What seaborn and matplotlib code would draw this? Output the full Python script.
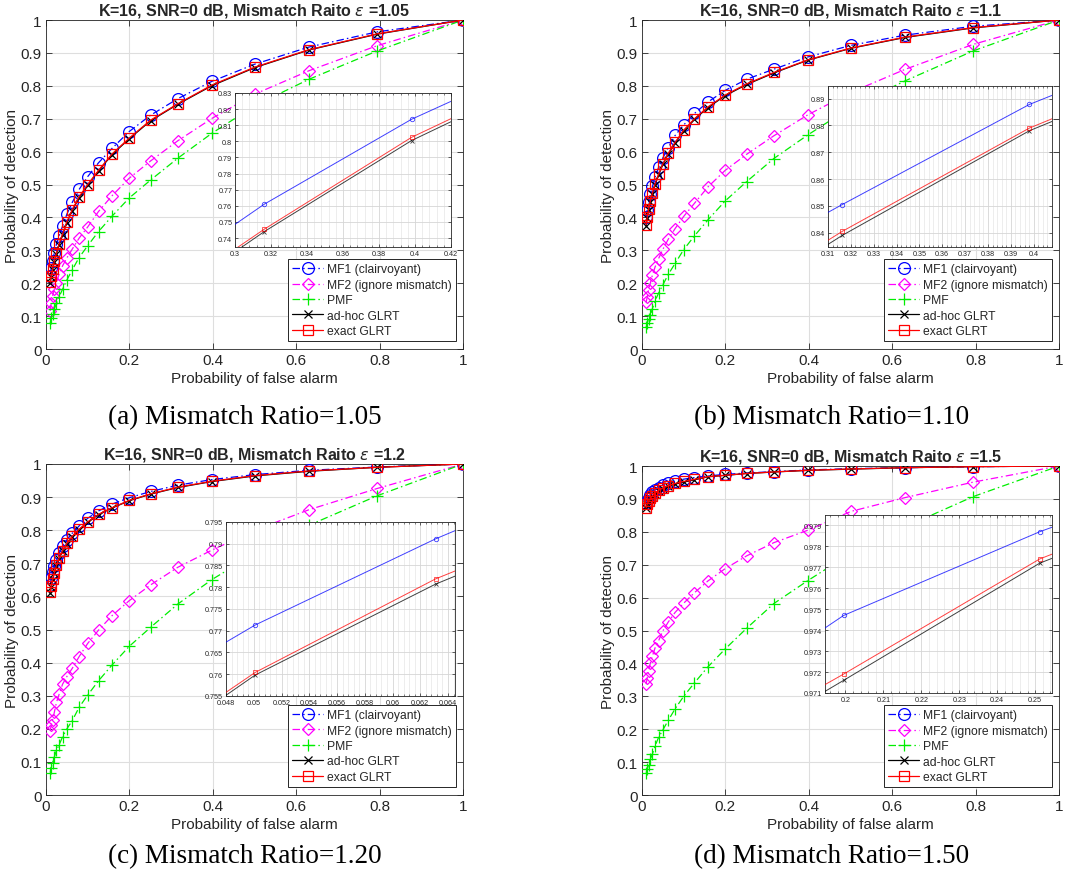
import numpy as np
import pandas as pd
import matplotlib
matplotlib.use('Agg')
import matplotlib.pyplot as plt
import seaborn as sns
from matplotlib.ticker import MultipleLocator, AutoMinorLocator, FuncFormatter

# ---------------- data ----------------
pfa = [0.0100, 0.0126, 0.0158, 0.0200, 0.0251, 0.0316, 0.0398, 0.0501, 0.0631, 0.0794,
       0.1000, 0.1259, 0.1585, 0.1995, 0.2512, 0.3162, 0.3981, 0.5012, 0.6310, 0.7943, 1.0]

# (a) epsilon = 1.05
a_mf1 = [0.223, 0.247, 0.268, 0.293, 0.319, 0.344, 0.374, 0.410, 0.446, 0.485, 0.524, 0.566, 0.610, 0.661, 0.711, 0.761, 0.8137, 0.866, 0.918, 0.964, 1.0]
a_mf2 = [0.116, 0.140, 0.162, 0.182, 0.202, 0.228, 0.253, 0.277, 0.304, 0.337, 0.371, 0.418, 0.466, 0.519, 0.572, 0.633, 0.701, 0.775, 0.846, 0.922, 1.0]
a_pmf = [0.079, 0.093, 0.106, 0.121, 0.140, 0.159, 0.182, 0.210, 0.241, 0.278, 0.314, 0.357, 0.404, 0.459, 0.514, 0.580, 0.656, 0.740, 0.820, 0.906, 1.0]
a_adhoc = [0.200, 0.219, 0.240, 0.265, 0.289, 0.317, 0.347, 0.384, 0.421, 0.460, 0.498, 0.541, 0.591, 0.639, 0.694, 0.744, 0.8005, 0.8555, 0.909, 0.957, 1.0]
a_exact = [0.203, 0.222, 0.243, 0.268, 0.292, 0.320, 0.350, 0.387, 0.424, 0.463, 0.500, 0.543, 0.593, 0.641, 0.696, 0.7455, 0.8025, 0.857, 0.910, 0.958, 1.0]

# (b) epsilon = 1.1
b_mf1 = [0.400, 0.423, 0.447, 0.470, 0.494, 0.523, 0.552, 0.581, 0.612, 0.649, 0.681, 0.716, 0.751, 0.786, 0.820, 0.8505, 0.8878, 0.923, 0.954, 0.981, 1.0]
b_mf2 = [0.142, 0.158, 0.180, 0.200, 0.225, 0.250, 0.275, 0.303, 0.334, 0.366, 0.403, 0.443, 0.493, 0.543, 0.592, 0.648, 0.712, 0.780, 0.850, 0.926, 1.0]
b_pmf = [0.066, 0.079, 0.091, 0.103, 0.123, 0.147, 0.170, 0.195, 0.227, 0.260, 0.302, 0.344, 0.393, 0.450, 0.509, 0.579, 0.651, 0.735, 0.815, 0.906, 1.0]
b_adhoc = [0.375, 0.398, 0.422, 0.447, 0.472, 0.500, 0.529, 0.561, 0.593, 0.626, 0.663, 0.698, 0.734, 0.770, 0.804, 0.839, 0.878, 0.914, 0.947, 0.976, 1.0]
b_exact = [0.378, 0.401, 0.425, 0.450, 0.475, 0.503, 0.531, 0.563, 0.595, 0.628, 0.665, 0.700, 0.736, 0.772, 0.806, 0.8405, 0.879, 0.915, 0.948, 0.977, 1.0]

# (c) epsilon = 1.2
c_mf1 = [0.635, 0.655, 0.673, 0.692, 0.711, 0.731, 0.752, 0.7713, 0.7911, 0.813, 0.836, 0.858, 0.879, 0.898, 0.917, 0.936, 0.953, 0.968, 0.981, 0.991, 1.0]
c_mf2 = [0.194, 0.211, 0.227, 0.250, 0.280, 0.305, 0.335, 0.358, 0.383, 0.418, 0.458, 0.498, 0.542, 0.587, 0.635, 0.688, 0.740, 0.800, 0.862, 0.926, 1.0]
c_pmf = [0.068, 0.083, 0.098, 0.115, 0.135, 0.152, 0.176, 0.200, 0.225, 0.265, 0.302, 0.345, 0.393, 0.449, 0.507, 0.577, 0.651, 0.730, 0.815, 0.904, 1.0]
c_adhoc = [0.610, 0.629, 0.650, 0.670, 0.692, 0.714, 0.737, 0.7598, 0.7807, 0.802, 0.824, 0.847, 0.867, 0.889, 0.909, 0.929, 0.947, 0.964, 0.978, 0.990, 1.0]
c_exact = [0.613, 0.632, 0.652, 0.672, 0.694, 0.716, 0.738, 0.7604, 0.7819, 0.803, 0.825, 0.848, 0.868, 0.890, 0.910, 0.930, 0.948, 0.965, 0.979, 0.990, 1.0]

# (d) epsilon = 1.5
d_mf1 = [0.887, 0.895, 0.904, 0.912, 0.920, 0.927, 0.934, 0.941, 0.948, 0.954, 0.960, 0.965, 0.9697, 0.9747, 0.9787, 0.983, 0.988, 0.992, 0.995, 0.998, 1.0]
d_mf2 = [0.337, 0.357, 0.378, 0.401, 0.423, 0.448, 0.469, 0.499, 0.526, 0.555, 0.583, 0.615, 0.651, 0.688, 0.727, 0.767, 0.805, 0.862, 0.904, 0.951, 1.0]
d_pmf = [0.068, 0.078, 0.092, 0.108, 0.125, 0.150, 0.175, 0.198, 0.227, 0.262, 0.300, 0.341, 0.390, 0.444, 0.507, 0.582, 0.652, 0.735, 0.815, 0.907, 1.0]
d_adhoc = [0.871, 0.882, 0.891, 0.900, 0.908, 0.916, 0.924, 0.931, 0.938, 0.945, 0.951, 0.958, 0.9672, 0.9716, 0.9772, 0.9818, 0.9868, 0.9905, 0.9948, 0.998, 1.0]
d_exact = [0.873, 0.884, 0.893, 0.902, 0.910, 0.918, 0.926, 0.933, 0.940, 0.947, 0.953, 0.9595, 0.9677, 0.9719, 0.9774, 0.982, 0.987, 0.991, 0.995, 0.998, 1.0]

series_names = ['MF1 (clairvoyant)', 'MF2 (ignore mismatch)', 'PMF', 'ad-hoc GLRT', 'exact GLRT']
eps_labels = ['1.05', '1.1', '1.2', '1.5']
captions = ['(a) Mismatch Ratio=1.05', '(b) Mismatch Ratio=1.10',
            '(c) Mismatch Ratio=1.20', '(d) Mismatch Ratio=1.50']
panels = [
    [a_mf1, a_mf2, a_pmf, a_adhoc, a_exact],
    [b_mf1, b_mf2, b_pmf, b_adhoc, b_exact],
    [c_mf1, c_mf2, c_pmf, c_adhoc, c_exact],
    [d_mf1, d_mf2, d_pmf, d_adhoc, d_exact],
]

# ---------------- style ----------------
sns.set_theme(style='ticks')
plt.rcParams['font.family'] = ['Liberation Sans', 'DejaVu Sans']
plt.rcParams['mathtext.fontset'] = 'dejavusans'

DASHDOT = (0, (6, 2.5, 1.2, 2.5))
styles = {
    'MF1 (clairvoyant)':     dict(c='#0000ff', m='o', ls=DASHDOT, ms=8.5, ims=3.2),
    'MF2 (ignore mismatch)': dict(c='#ff00ff', m='D', ls=DASHDOT, ms=6.5, ims=2.6),
    'PMF':                   dict(c='#00ee00', m='+', ls=DASHDOT, ms=8.5, ims=3.2),
    'ad-hoc GLRT':           dict(c='#000000', m='x', ls='-', ms=5.5, ims=2.6),
    'exact GLRT':            dict(c='#ff0000', m='s', ls='-', ms=6.5, ims=2.6),
}
EDGE = '#262626'

main_pos = [[0.0432, 0.6018, 0.3915, 0.3743],
            [0.6028, 0.6018, 0.3915, 0.3743],
            [0.0432, 0.0944, 0.3915, 0.3766],
            [0.6028, 0.0944, 0.3915, 0.3743]]
inset_pos = [[0.2207, 0.7179, 0.2028, 0.1752],
             [0.7775, 0.7179, 0.2103, 0.1832],
             [0.2122, 0.2071, 0.2150, 0.1980],
             [0.7746, 0.2105, 0.2131, 0.2025]]
inset_xlim = [(0.30, 0.42), (0.31, 0.408), (0.048, 0.0645), (0.1946, 0.2544)]
inset_ylim = [(0.7345, 0.83), (0.8347, 0.8947), (0.755, 0.795), (0.971, 0.9795)]
inset_xstep = [0.02, 0.01, 0.002, 0.01]
inset_ystep = [0.01, 0.01, 0.005, 0.001]
caption_xy = [(0.2300, 1 - 418 / 879), (0.7810, 1 - 418 / 879),
              (0.2300, 1 - 857 / 879), (0.7810, 1 - 857 / 879)]

fmt = FuncFormatter(lambda v, p: ('%g' % round(v, 6)))


def style_axes(ax, lw=0.6):
    for s in ax.spines.values():
        s.set_color(EDGE)
        s.set_linewidth(lw)
        s.set_visible(True)


fig = plt.figure(figsize=(10.65, 8.79), dpi=100)

for i in range(4):
    data = dict(zip(series_names, panels[i]))
    ax = fig.add_axes(main_pos[i])
    for name in series_names:
        st = styles[name]
        sns.lineplot(x=pfa, y=data[name], ax=ax, color=st['c'], marker=st['m'],
                     linestyle=st['ls'], linewidth=0.9, markersize=st['ms'],
                     markerfacecolor='none', markeredgecolor=st['c'],
                     markeredgewidth=0.9, label=name, legend=False,
                     sort=False, errorbar=None, zorder=3)
    ax.set_xlim(0, 1)
    ax.set_ylim(0, 1)
    ax.xaxis.set_major_locator(MultipleLocator(0.2))
    ax.yaxis.set_major_locator(MultipleLocator(0.1))
    ax.xaxis.set_major_formatter(fmt)
    ax.yaxis.set_major_formatter(fmt)
    ax.tick_params(direction='in', length=4, width=0.6, top=True, right=True,
                   labelsize=11, colors=EDGE, pad=3)
    ax.grid(True, color='#dedede', linewidth=0.8)
    ax.set_axisbelow(True)
    style_axes(ax)
    ax.set_xlabel('Probability of false alarm', fontsize=11, color=EDGE, labelpad=3)
    ax.set_ylabel('Probability of detection', fontsize=11, color=EDGE, labelpad=1)
    ax.set_title('K=16, SNR=0 dB, Mismatch Raito $\\epsilon$ =' + eps_labels[i],
                 fontsize=11.5, fontweight='bold', pad=4)
    leg = ax.legend(loc='lower right', bbox_to_anchor=(0.983, 0.024), borderaxespad=0,
                    fontsize=8.7, frameon=True, fancybox=False, framealpha=1,
                    edgecolor=EDGE, borderpad=0.35, labelspacing=0.28,
                    handlelength=2.6, handletextpad=0.3)
    leg.get_frame().set_linewidth(0.7)

    # zoomed inset
    ins = fig.add_axes(inset_pos[i])
    ins.set_facecolor('white')
    for name in series_names:
        st = styles[name]
        sns.lineplot(x=pfa, y=data[name], ax=ins, color=st['c'], marker=st['m'],
                     linestyle='-', linewidth=0.7, markersize=st['ims'],
                     markerfacecolor='none', markeredgecolor=st['c'],
                     markeredgewidth=0.6, legend=False, sort=False,
                     errorbar=None, alpha=0.75, zorder=3)
    ins.set_xlim(*inset_xlim[i])
    ins.set_ylim(*inset_ylim[i])
    ins.xaxis.set_major_locator(MultipleLocator(inset_xstep[i]))
    ins.yaxis.set_major_locator(MultipleLocator(inset_ystep[i]))
    ins.xaxis.set_minor_locator(AutoMinorLocator(5))
    ins.xaxis.set_major_formatter(fmt)
    ins.yaxis.set_major_formatter(fmt)
    ins.tick_params(which='major', direction='in', length=2.5, width=0.5, top=True,
                    right=True, labelsize=5.2, colors=EDGE, pad=2)
    ins.tick_params(which='minor', direction='in', length=1.5, width=0.4, top=True,
                    bottom=True)
    ins.grid(True, which='major', color='#d6d6d6', linewidth=0.6)
    ins.grid(True, which='minor', axis='x', color='#e6e6e6', linewidth=0.5)
    ins.set_axisbelow(True)
    ins.set_xlabel('')
    ins.set_ylabel('')
    style_axes(ins, 0.6)

    fig.text(caption_xy[i][0], caption_xy[i][1], captions[i], ha='center', va='center',
             fontsize=19.5, family='Liberation Serif', color='black')

fig.savefig('out.png', dpi=100)
